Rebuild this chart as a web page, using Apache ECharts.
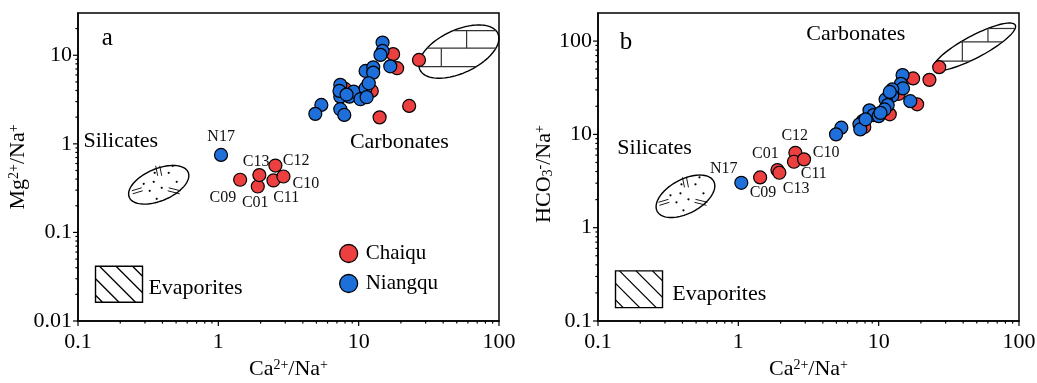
<!DOCTYPE html>
<html><head><meta charset="utf-8">
<script src="https://cdn.jsdelivr.net/npm/echarts@6/dist/echarts.min.js"></script>
<style>html,body{margin:0;padding:0;background:#fff}#c{width:1037px;height:383px}</style>
</head><body><div id="c"></div>
<script>
// ---------------- DATA ----------------
const chaiquSamples = ['C09','C01','C13','C12','C11','C10','','','','','','',''];
const chaiquCaNaA  = [1.43,1.91,1.96,2.55,2.47,2.91, 17.6,26.9,18.8,12.4,8.0,14.1,22.9];
const chaiquMgNa   = [0.393,0.33,0.444,0.569,0.386,0.428, 10.3,8.85,7.14,3.96,4.17,1.99,2.68];
const chaiquCaNaB  = [1.43,1.90,1.96,2.55,2.49,2.94, 17.6,27,18.8,12.0,7.9,13.9,23];
const chaiquHCO3Na = [3.46,4.15,3.88,6.35,5.09,5.4, 39.8,52.5,21,16.4,12,27.2,38.4];

const niangquSamplesA = ['N17','','','','','','','','','','','','','','','','','','','','',''];
const niangquCaNaA = [1.045,14.8,14.8,14.3,16.8,11.2,12.7,12.7,7.4,7.4,8.6,9.2,10.3,11.2,11.8,11.4,5.42,4.91,7.4,7.9,7.3,8.2];
const niangquMgNa  = [0.75,13.9,11.2,10.1,7.5,6.65,7.3,6.37,4.63,3.41,3.41,3.89,3.19,4.25,4.83,3.36,2.75,2.18,2.46,2.12,3.96,3.6];

const niangquSamplesB = ['N17','','','','','','','','','','','','','','','','','','','',''];
const niangquCaNaB = [1.05,14.8,14.4,14.9,12.5,12.5,11.2,11.6,11.0,8.6,9.2,10,16.8,7.7,7.3,7.4,5.42,4.97,10.3,8.07,12.0];
const niangquHCO3Na= [3.03,43.2,34.8,31.1,30.3,25.9,23.7,20.6,18.5,18.1,16.1,15.7,22.7,13.9,12.8,11.3,11.8,10,17,14.5,28.5];

const xTickValues = [0.1,1,10,100];
const xTickLabels = ['0.1','1','10','100'];
const yTickValuesA = [0.01,0.1,1,10];
const yTickLabelsA = ['0.01','0.1','1','10'];
const yTickValuesB = [0.1,1,10,100];
const yTickLabelsB = ['0.1','1','10','100'];
const xMinorTicks = [0.2,0.3,0.4,0.5,0.6,0.7,0.8,0.9,2,3,4,5,6,7,8,9,20,30,40,50,60,70,80,90];
const yMinorTicksA = [0.02,0.03,0.04,0.05,0.06,0.07,0.08,0.09,0.2,0.3,0.4,0.5,0.6,0.7,0.8,0.9,2,3,4,5,6,7,8,9,20];
const yMinorTicksB = [0.2,0.3,0.4,0.5,0.6,0.7,0.8,0.9,2,3,4,5,6,7,8,9,20,30,40,50,60,70,80,90];

// ---------------- STYLE / LAYOUT ----------------
const FONT = 'Liberation Serif';
const RED = '#EC3F3F', BLUE = '#1F6FDB';
const labelOffsetsA = {N17:[0.7,-17.7], C13:[-2.6,-13], C12:[21.4,-4], C10:[23,7.6], C11:[13.4,18.3], C01:[-1.9,17.3], C09:[-16.7,18.3]};
const labelOffsetsB = {N17:[-17,-13], C09:[3.5,16.4], C01:[-11.5,-15.7], C13:[17.4,16.6], C12:[0,-16.7], C11:[20.5,12.6], C10:[22.7,-5.6]};
const SYM = 13;

const decoA = { letter:'a', letterPos:[0.162,15.5], silText:[0.202,1.06], silEll:[0.376,0.345], silGeom:[32,16,23],
  carText:[19.5,1.03], carEll:[51.8,11.0], carGeom:[43,21.5,25], carH:[-21,-3.4,15], carV:[[7.7,-21,-3.4],[-17.6,-3.4,15]],
  evapBox:[0.196,0.026], evapSize:[47,36], evapText:[0.687,0.0236] };
const decoB = { letter:'b', letterPos:[0.158,97.3], silText:[0.253,7.19], silEll:[0.42,2.17], silGeom:[32,17,28],
  carText:[6.87,117.7], carEll:[48.3,87.1], carGeom:[46,11,28], carH:[-18.2,-4.8,14.5], carV:[[13.3,-18.2,-4.8],[-12.3,-4.8,14.5]],
  evapBox:[0.196,0.219], evapSize:[47,36.7], evapText:[0.731,0.196] };

function logLabel(values, labels){
  return v => { for (let i=0;i<values.length;i++){ if (Math.abs(Math.log10(v)-Math.log10(values[i]))<1e-6) return labels[i]; } return ''; };
}
function ellipsePts(cx, cy, a, b, th){
  const pts=[]; const c=Math.cos(th), s=Math.sin(th);
  for(let i=0;i<96;i++){ const t=i/96*2*Math.PI; const u=a*Math.cos(t), v=b*Math.sin(t);
    pts.push([cx+u*c-v*s, cy-(u*s+v*c)]); }
  return pts;
}
function hClip(cx,cy,a,b,th,dy){
  const Y=-dy, c=Math.cos(th), s=Math.sin(th);
  const A=c*c/(a*a)+s*s/(b*b);
  const B=2*Y*s*c*(1/(a*a)-1/(b*b));
  const C=Y*Y*(s*s/(a*a)+c*c/(b*b))-1;
  const D=B*B-4*A*C; if(D<0) return null;
  return [cx+(-B-Math.sqrt(D))/(2*A), cx+(-B+Math.sqrt(D))/(2*A)];
}
const silMarks = { dots:[[-15,-1],[-5,-3],[10,-12],[18,-3],[3,3],[-9,6],[-2,14],[14,-19],[-4,-12]],
  lines:[[-3,-19,-1,-9],[1,-19,3,-9],[-27,6,-17,3],[-26,9,-16,6],[10,3,22,6],[9,6,21,9]] };

function decoRender(d){
  return function(params, api){
    const ch=[];
    const txt=(pos,text,size)=>{ const p=api.coord(pos); ch.push({type:'text', style:{text, x:p[0], y:p[1], fill:'#000', fontFamily:FONT, fontSize:size, align:'center', verticalAlign:'middle'}}); };
    txt(d.letterPos, d.letter, 25);
    txt(d.silText, 'Silicates', 22);
    txt(d.carText, 'Carbonates', 22);
    txt(d.evapText, 'Evaporites', 22);
    let c=api.coord(d.silEll); let g=d.silGeom; let th=g[2]*Math.PI/180;
    ch.push({type:'polygon', shape:{points:ellipsePts(c[0],c[1],g[0],g[1],th)}, style:{fill:'none', stroke:'#000', lineWidth:1.4}});
    silMarks.dots.forEach(q=>ch.push({type:'circle', shape:{cx:c[0]+q[0], cy:c[1]+q[1], r:1.1}, style:{fill:'#000'}}));
    silMarks.lines.forEach(q=>ch.push({type:'line', shape:{x1:c[0]+q[0], y1:c[1]+q[1], x2:c[0]+q[2], y2:c[1]+q[3]}, style:{stroke:'#000', lineWidth:0.9}}));
    c=api.coord(d.carEll); g=d.carGeom; th=g[2]*Math.PI/180;
    ch.push({type:'polygon', shape:{points:ellipsePts(c[0],c[1],g[0],g[1],th)}, style:{fill:'none', stroke:'#000', lineWidth:1.4}});
    d.carH.forEach(dy=>{ const r=hClip(c[0],c[1],g[0],g[1],th,dy); if(r) ch.push({type:'line', shape:{x1:r[0],y1:c[1]+dy,x2:r[1],y2:c[1]+dy}, style:{stroke:'#333', lineWidth:1.2}}); });
    d.carV.forEach(q=>ch.push({type:'line', shape:{x1:c[0]+q[0],y1:c[1]+q[1],x2:c[0]+q[0],y2:c[1]+q[2]}, style:{stroke:'#333', lineWidth:1.2}}));
    c=api.coord(d.evapBox); const w=d.evapSize[0], h=d.evapSize[1]; const x0=c[0]-w/2, y0=c[1]-h/2;
    ch.push({type:'rect', shape:{x:x0,y:y0,width:w,height:h}, style:{fill:'none', stroke:'#000', lineWidth:1.4}});
    for(let k=-29;k<=w;k+=16.5){
      const xa=Math.max(0,k), ya=Math.max(0,-k), xb=Math.min(w,h+k), yb=Math.min(h,w-k);
      if(xb>xa) ch.push({type:'line', shape:{x1:x0+xa,y1:y0+ya,x2:x0+xb,y2:y0+yb}, style:{stroke:'#000', lineWidth:1.3}});
    }
    return {type:'group', children:ch};
  };
}

function tickSeries(gi, xMinV, yMinV, yMaj, yMin){
  const data=[];
  xTickValues.forEach(v=>data.push([v,yMinV,0]));
  xMinorTicks.forEach(v=>data.push([v,yMinV,1]));
  yMaj.forEach(v=>data.push([xMinV,v,2]));
  yMin.forEach(v=>data.push([xMinV,v,3]));
  return {type:'custom', xAxisIndex:gi, yAxisIndex:gi, silent:true, clip:false, z:10, data,
    renderItem:(params, api)=>{
      const p=api.coord([api.value(0),api.value(1)]); const k=api.value(2); const L=(k%2===0)?5:2.6;
      if(k<2) return {type:'line', shape:{x1:p[0],y1:p[1],x2:p[0],y2:p[1]+L}, style:{stroke:'#000', lineWidth:1.2}};
      return {type:'line', shape:{x1:p[0]-L,y1:p[1],x2:p[0],y2:p[1]}, style:{stroke:'#000', lineWidth:1.2}};
    }};
}

function pts(names, xs, ys, offs){
  return xs.map((x,i)=>{
    const item={name:names[i]||'', value:[x,ys[i]]};
    if(names[i] && offs[names[i]]){
      const o=offs[names[i]];
      item.label={show:true, position:[SYM/2+o[0], SYM/2+o[1]], align:'center', verticalAlign:'middle', formatter:names[i],
        fontFamily:FONT, fontSize:16, color:'#111'};
    }
    return item;
  });
}
function scatter(name, gi, color, data){
  return {type:'scatter', name, xAxisIndex:gi, yAxisIndex:gi, symbol:'circle', symbolSize:SYM, z:5,
    itemStyle:{color, borderColor:'#000', borderWidth:1.2, opacity:1}, label:{show:false}, emphasis:{disabled:true}, data};
}

const axisTextStyle={fontFamily:FONT, fontSize:22, color:'#000'};
const rich={sup:{fontFamily:FONT, fontSize:14, verticalAlign:'top', color:'#000'}, sub:{fontFamily:FONT, fontSize:14, verticalAlign:'bottom', color:'#000'}};
function xAxis(gi){
  return {type:'log', logBase:10, gridIndex:gi, min:0.1, max:100,
    name:'Ca{sup|2+}/Na{sup|+}', nameLocation:'middle', nameGap:37,
    nameTextStyle:Object.assign({rich}, axisTextStyle),
    axisLine:{show:true, lineStyle:{color:'#000', width:1.5}}, axisTick:{show:false}, splitLine:{show:false}, minorTick:{show:false},
    axisLabel:Object.assign({margin:10, formatter:logLabel(xTickValues,xTickLabels)}, axisTextStyle)};
}
function yAxis(gi, min, max, vals, labels, name, pad){
  return {type:'log', logBase:10, gridIndex:gi, min, max,
    name, nameLocation:'middle', nameGap:35, nameRotate:90,
    nameTextStyle:Object.assign({rich, padding:pad}, axisTextStyle),
    axisLine:{show:true, lineStyle:{color:'#000', width:1.5}}, axisTick:{show:false}, splitLine:{show:false},
    axisLabel:Object.assign({margin:6, formatter:logLabel(vals,labels)}, axisTextStyle)};
}

const option={
  animation:false,
  backgroundColor:'#fff',
  grid:[
    {left:78, top:13, width:421, height:308, show:true, borderColor:'#000', borderWidth:1.5, backgroundColor:'transparent', containLabel:false, outerBoundsMode:'none'},
    {left:598, top:13, width:421, height:308, show:true, borderColor:'#000', borderWidth:1.5, backgroundColor:'transparent', containLabel:false, outerBoundsMode:'none'}
  ],
  xAxis:[xAxis(0), xAxis(1)],
  yAxis:[
    yAxis(0, 0.01, 30, yTickValuesA, yTickLabelsA, 'Mg{sup|2+}/Na{sup|+}', [0,0,0,0]),
    yAxis(1, 0.1, 200, yTickValuesB, yTickLabelsB, 'HCO{sub|3}{sup|-}/Na{sup|+}', [0,14,0,0])
  ],
  legend:{data:['Chaiqu','Niangqu'], orient:'vertical', left:334, top:238, itemWidth:18, itemHeight:18, itemGap:9, icon:'circle',
    textStyle:{fontFamily:FONT, fontSize:21, color:'#000', padding:[0,0,0,3]}, itemStyle:{borderColor:'#000', borderWidth:1.3}},
  series:[
    {type:'custom', xAxisIndex:0, yAxisIndex:0, silent:true, clip:false, z:1, data:[[1,1]], renderItem:decoRender(decoA)},
    {type:'custom', xAxisIndex:1, yAxisIndex:1, silent:true, clip:false, z:1, data:[[1,1]], renderItem:decoRender(decoB)},
    scatter('Chaiqu', 0, RED, pts(chaiquSamples, chaiquCaNaA, chaiquMgNa, labelOffsetsA)),
    scatter('Niangqu', 0, BLUE, pts(niangquSamplesA, niangquCaNaA, niangquMgNa, labelOffsetsA)),
    scatter('Chaiqu', 1, RED, pts(chaiquSamples, chaiquCaNaB, chaiquHCO3Na, labelOffsetsB)),
    scatter('Niangqu', 1, BLUE, pts(niangquSamplesB, niangquCaNaB, niangquHCO3Na, labelOffsetsB)),
    tickSeries(0, 0.1, 0.01, yTickValuesA, yMinorTicksA),
    tickSeries(1, 0.1, 0.1, yTickValuesB, yMinorTicksB)
  ]
};
const chart=echarts.init(document.getElementById('c'), null, {renderer:'canvas'});
chart.setOption(option);
</script></body></html>
